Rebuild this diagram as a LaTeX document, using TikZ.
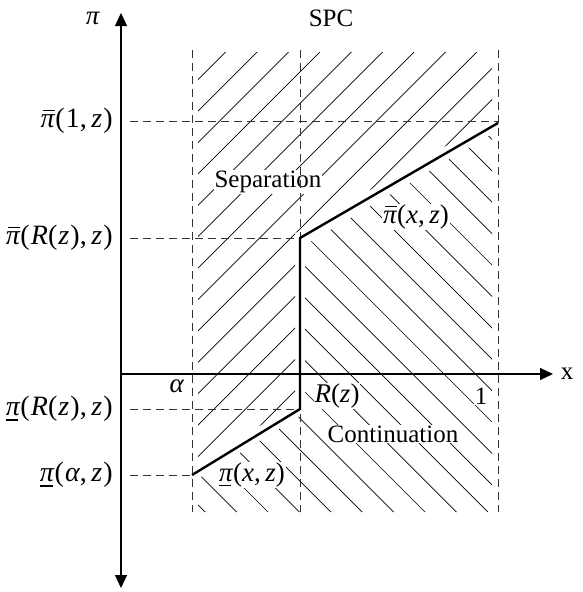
\documentclass[tikz,border=0pt]{standalone}
\usepackage{fontspec}
\setmainfont{Liberation Serif}
\usetikzlibrary{arrows.meta}
\newcommand\ip{\textit{π}}
\newcommand\pibar{\leavevmode\rlap{\hspace{0.08em}\rule[0.6em]{0.42em}{0.05em}}\ip}
\newcommand\piund{\leavevmode\rlap{\hspace{0.0em}\rule[-0.17em]{0.45em}{0.05em}}\ip}
\newcommand\zz{\textit{z}}
\newcommand\lp{(\kern0.04em}
\newcommand\rp{\kern0.04em)}
\begin{document}
\begin{tikzpicture}[x=1pt,y=-1pt,
  every node/.style={font=\fontsize{25}{29}\selectfont, inner sep=1pt},
  mlab/.style={font=\fontsize{27}{31}\selectfont},
  llab/.style={font=\fontsize{28}{32}\selectfont, anchor=east},
  hatch/.style={line width=0.7pt},
  guide/.style={dash pattern=on 8pt off 5pt, line width=0.8pt, black!80},
  axisline/.style={line width=1.2pt},
  tip/.style={-{Triangle[length=13pt,width=12pt]}},
  curve/.style={line width=2.4pt, line join=miter},
  blank/.style={fill=white}]
\useasboundingbox (0,0) rectangle (582,592);
% hatching: separation
\begin{scope}
\clip (198,52) -- (492,52) -- (492,119) -- (303,229) -- (295,233) -- (295,404) -- (198,464) -- cycle;
\foreach \k in {-10,...,25} \draw[hatch] ({277.7+31.4*\k},0) -- ({277.7+31.4*\k-600},600);
\end{scope}
% hatching: continuation
\begin{scope}
\clip (492,134) -- (305,245) -- (305,412) -- (300,416) -- (198,479) -- (198,512) -- (492,512) -- cycle;
\foreach \k in {-20,...,20} \draw[hatch] ({70+31.4*\k},0) -- ({70+31.4*\k+600},600);
\end{scope}
% labels inside the hatching
\node[blank] (sep) at (268,182) {Separation};
\node[blank] (cont) at (393,434) {Continuation};
\node[blank,mlab] (ub) at (416,217) {\pibar(\textit{x},\,\zz)};
\node[blank,mlab] (lb) at (252,475) {\piund(\textit{x},\,\zz)};
\node[blank,mlab] (rz) at (337,396) {\textit{R}(\zz)};
\node[blank] (one) at (481,396) {1};
\node[blank,mlab] (al) at (177,386) {\textit{α}};
% coordinates
\coordinate (a0) at (192,50); \coordinate (a1) at (192,512);
\coordinate (r0) at (300,50); \coordinate (r1) at (300,512);
\coordinate (o0) at (498,50); \coordinate (o1) at (498,512);
\coordinate (p1) at (192,475); \coordinate (p2) at (300,409);
\coordinate (p3) at (300,238); \coordinate (p4) at (498,123);
\coordinate (g1) at (130,121); \coordinate (g1e) at (498,121);
\coordinate (g2) at (130,238);
\coordinate (g3) at (130,409);
\coordinate (g4) at (130,475);
% dashed guides
\draw[guide] (a0) -- (a1);
\draw[guide] (r0) -- (r1);
\draw[guide] (o0) -- (o1);
\draw[guide] (g1) -- (g1e);
\draw[guide] (g2) -- (p3);
\draw[guide] (g3) -- (p2);
\draw[guide] (g4) -- (p1);
% axes
\coordinate (ytop) at (121,13); \coordinate (ybot) at (121,588);
\coordinate (xo) at (121,374); \coordinate (xend) at (553,374);
\draw[axisline,{Triangle[length=13pt,width=12pt]}-{Triangle[length=13pt,width=12pt]}] (ytop) -- (ybot);
\draw[axisline,tip] (xo) -- (xend);
% thick curve
\draw[curve] (p1) -- (p2) -- (p3) -- (p4);
% outside labels
\node[mlab] (pilab) at (93,18) {\ip};
\node (spc) at (331,18) {SPC};
\node (xlab) at (567,374) {x};
\node[llab] (l1) at (114,121) {\pibar\lp1,\,\zz\rp};
\node[llab] (l2) at (114,238) {\pibar\lp\textit{R}\lp\zz\rp,\,\zz\rp};
\node[llab] (l3) at (114,409) {\piund\lp\textit{R}\lp\zz\rp,\,\zz\rp};
\node[llab] (l4) at (114,475) {\piund\lp\textit{α},\,\zz\rp};
\end{tikzpicture}
\end{document}
